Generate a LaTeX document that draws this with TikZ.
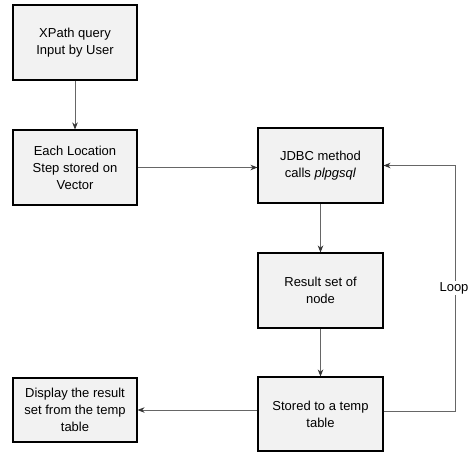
\documentclass[tikz,border=0pt]{standalone}
\usepackage{fontspec}
\setmainfont{Liberation Sans}
\usetikzlibrary{arrows.meta,calc}
\begin{document}
\begin{tikzpicture}[x=1pt,y=-1pt,
  flowbox/.style={draw=black,line width=1.1pt,fill=black!5,align=center,
    inner sep=2pt,font=\fontsize{13}{17}\selectfont,text=black},
  conn/.style={draw=black!60,line width=0.8pt,-{Stealth[length=7pt,width=5.5pt,color=black!80]}},
  plain/.style={draw=black!60,line width=0.8pt}]
\useasboundingbox (0,0) rectangle (474,456);
\node[flowbox,minimum width=124pt,minimum height=75pt] (xpath) at (75,42.5) {XPath query\\Input by User};
\node[flowbox,minimum width=124pt,minimum height=75pt] (each) at (75,167.5) {Each Location\\Step stored on\\Vector};
\node[flowbox,minimum width=125pt,minimum height=75pt] (jdbc) at (320.5,165.5) {JDBC method\\calls \textit{plpgsql}};
\node[flowbox,minimum width=125pt,minimum height=75pt] (result) at (320.5,290.5) {Result set of\\node};
\node[flowbox,minimum width=125pt,minimum height=74pt] (stored) at (320.5,414) {Stored to a temp\\table};
\node[flowbox,minimum width=124pt,minimum height=64pt] (display) at (75,410) {Display the result\\set from the temp\\table};
\coordinate (corner) at (455,411);
\node[font=\fontsize{13}{17}\selectfont,text=black,fill=white,inner sep=1pt] (loop) at (454,288) {Loop};
\draw[conn] (xpath) -- (each);
\draw[conn] (each) -- (each -| jdbc.west);
\draw[conn] (jdbc) -- (result);
\draw[conn] (result) -- (stored);
\draw[conn] (stored.west |- display) -- (display);
\draw[plain] (stored.east |- corner) -- (corner) -- (loop.south -| corner);
\draw[conn] (loop.north -| corner) |- (jdbc.east);
\end{tikzpicture}
\end{document}
